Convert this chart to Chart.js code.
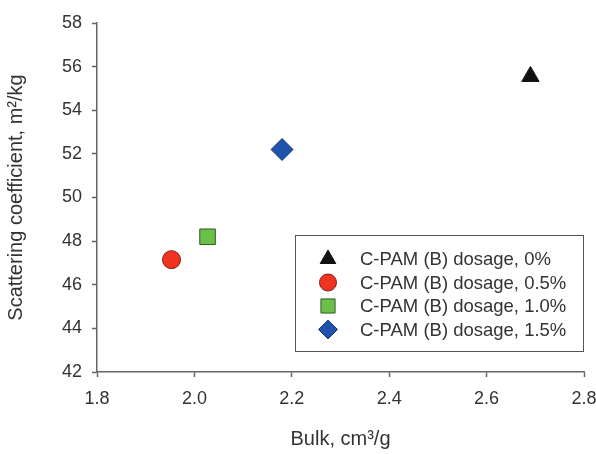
<!DOCTYPE html>
<html>
<head>
<meta charset="utf-8">
<script src="https://cdn.jsdelivr.net/npm/chart.js@4"></script>
<style>
html, body { margin: 0; padding: 0; background: #fff; }
#wrap { width: 596px; height: 454px; }
</style>
</head>
<body>
<div id="wrap"><canvas id="scatterCanvas"></canvas></div>
<script>
// data
const seriesLabels = ["C-PAM (B) dosage, 0%", "C-PAM (B) dosage, 0.5%", "C-PAM (B) dosage, 1.0%", "C-PAM (B) dosage, 1.5%"];
const bulkValues = [2.69, 1.953, 2.027, 2.18];
const scatteringValues = [55.55, 47.15, 48.2, 52.2];
const xTicks = [1.8, 2.0, 2.2, 2.4, 2.6, 2.8];
const yTicks = [42, 44, 46, 48, 50, 52, 54, 56, 58];

const markerShapes = ["triangle", "circle", "rect", "rectRot"];
const markerSizes = [10, 9, 11, 11];
const legendSizes = [9, 8.5, 10, 9.5];
const markerColors = ["#111111", "#f2331f", "#6cc04a", "#1f52ad"];
const markerBorders = ["#111111", "#7a1d12", "#2f5a22", "#163a78"];

const fontName = "'Liberation Sans', Arial, sans-serif";
const textColor = "#333";

// legend box drawn inside the plot, like the original
const insideLegend = {
    id: "insideLegend",
    afterDraw(chart) {
        const ctx = chart.ctx;
        ctx.save();
        ctx.strokeStyle = "#555";
        ctx.lineWidth = 1;
        ctx.strokeRect(295.5, 235.5, 288, 116);
        ctx.font = "18.5px " + fontName;
        ctx.textBaseline = "middle";
        ctx.textAlign = "left";
        chart.data.datasets.forEach((ds, i) => {
            const y = 259 + i * 23.5;
            ctx.fillStyle = markerColors[i];
            ctx.strokeStyle = markerBorders[i];
            ctx.lineWidth = 1;
            Chart.helpers.drawPoint(ctx, {
                pointStyle: markerShapes[i],
                radius: legendSizes[i],
                borderWidth: 1,
                rotation: 0
            }, 328, y);
            ctx.fillStyle = textColor;
            ctx.fillText(ds.label, 360, y + 1);
        });
        ctx.restore();
    }
};

const scatterCanvas = document.getElementById("scatterCanvas");
const scatterChart = new Chart(scatterCanvas, {
    type: "scatter",
    data: {
        datasets: seriesLabels.map((label, i) => ({
            label: label,
            data: [{ x: bulkValues[i], y: scatteringValues[i] }],
            pointStyle: markerShapes[i],
            pointRadius: markerSizes[i],
            pointHoverRadius: markerSizes[i],
            backgroundColor: markerColors[i],
            borderColor: markerBorders[i],
            borderWidth: 1
        }))
    },
    options: {
        responsive: true,
        maintainAspectRatio: false,
        animation: false,
        layout: {
            padding: { top: 23, right: 12, bottom: 0, left: 0 }
        },
        plugins: {
            legend: { display: false },
            tooltip: { enabled: false }
        },
        scales: {
            x: {
                type: "linear",
                min: 1.8,
                max: 2.8,
                afterBuildTicks: s => { s.ticks = xTicks.map(v => ({ value: v })); },
                afterFit: s => { s.height = 82; s.paddingLeft = 0; s.paddingRight = 0; },
                ticks: {
                    callback: v => Number(v).toFixed(1),
                    font: { family: fontName, size: 18 },
                    color: textColor,
                    padding: 11,
                    maxRotation: 0,
                    autoSkip: false
                },
                grid: {
                    drawOnChartArea: false,
                    drawTicks: true,
                    tickLength: 5,
                    tickColor: "#666",
                    tickWidth: 1.5
                },
                border: { color: "#666", width: 1.5 },
                title: {
                    display: true,
                    text: "Bulk, cm³/g",
                    font: { family: fontName, size: 20 },
                    color: textColor,
                    padding: { top: 0, bottom: 3 }
                }
            },
            y: {
                min: 42,
                max: 58,
                afterBuildTicks: s => { s.ticks = yTicks.map(v => ({ value: v })); },
                afterFit: s => { s.width = 97; s.paddingTop = 0; s.paddingBottom = 0; },
                ticks: {
                    font: { family: fontName, size: 18 },
                    color: textColor,
                    padding: 10,
                    autoSkip: false
                },
                grid: {
                    drawOnChartArea: false,
                    drawTicks: true,
                    tickLength: 5,
                    tickColor: "#666",
                    tickWidth: 1.5
                },
                border: { color: "#666", width: 1.5 },
                title: {
                    display: true,
                    text: "Scattering coefficient, m²/kg",
                    font: { family: fontName, size: 20 },
                    color: textColor,
                    padding: { top: 4, bottom: 0 }
                }
            }
        }
    },
    plugins: [insideLegend]
});
</script>
</body>
</html>
